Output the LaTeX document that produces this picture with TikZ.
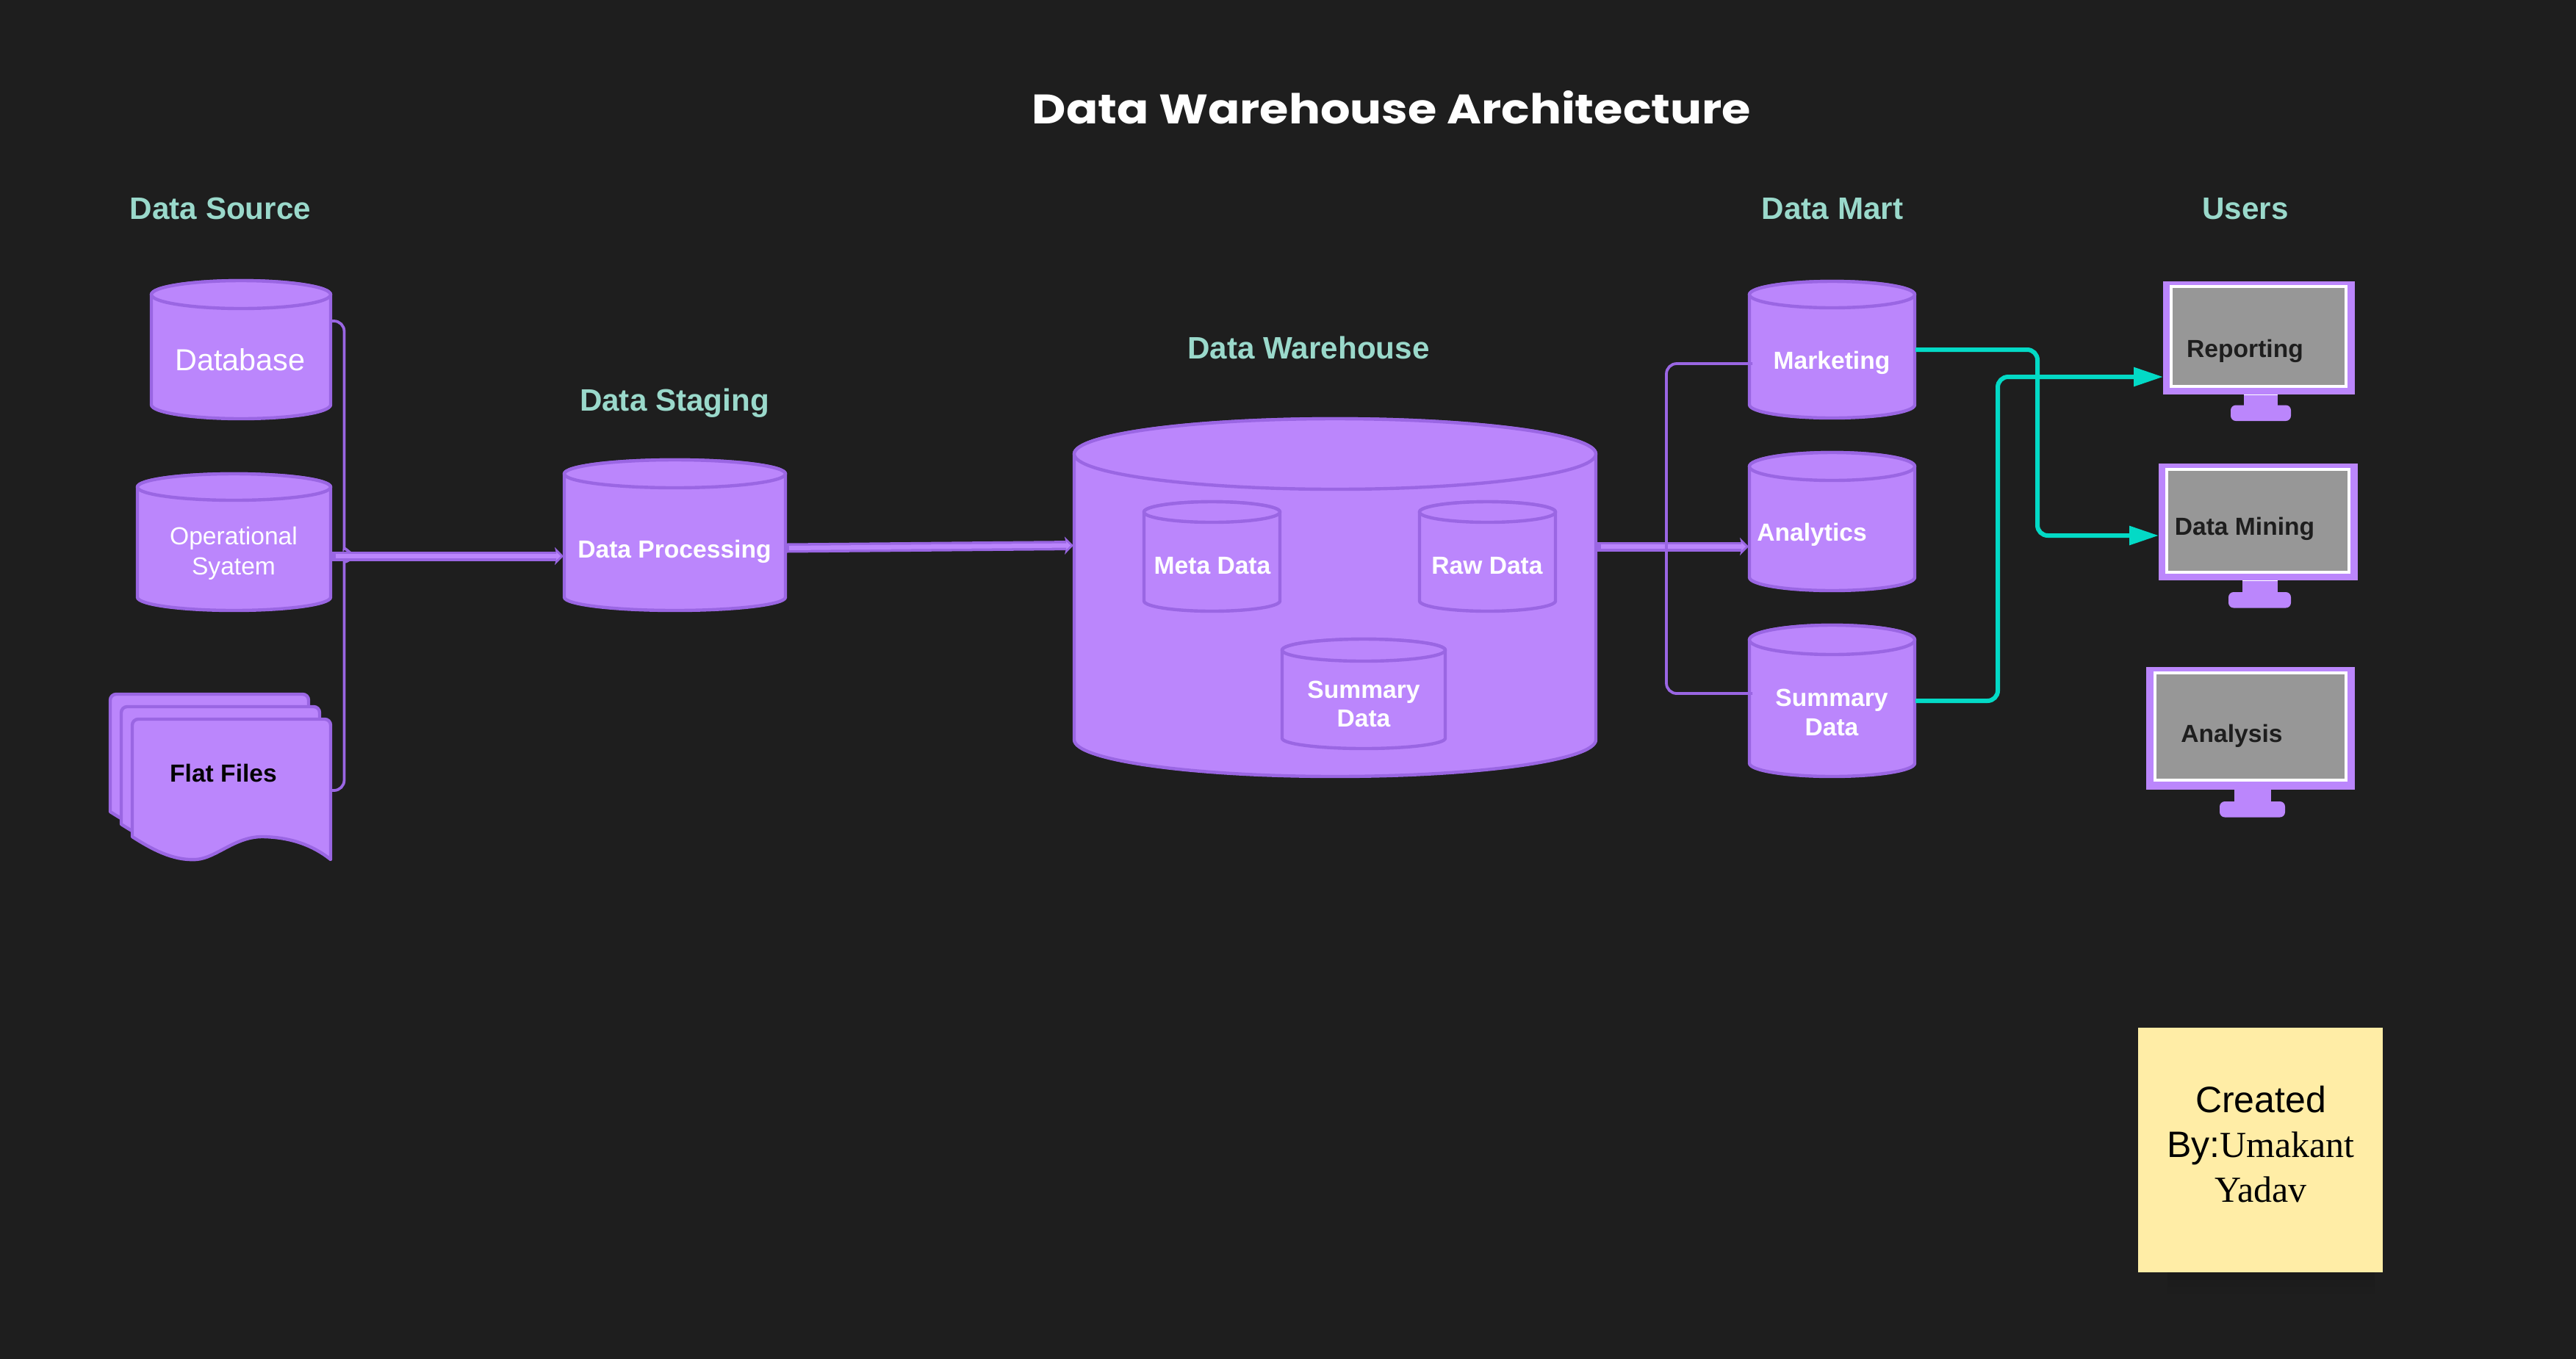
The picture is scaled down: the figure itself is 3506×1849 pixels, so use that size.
\documentclass[tikz,border=0pt]{standalone}
\usepackage{fontspec}
\usepackage{graphicx}
\setmainfont{Liberation Sans}
\newfontfamily\serifx{Liberation Serif}
\newfontfamily\titlefont{Poppins}
\usetikzlibrary{arrows.meta}
\definecolor{bgc}{HTML}{1E1E1E}
\definecolor{purp}{HTML}{BB86FC}
\definecolor{purpd}{HTML}{9A66E3}
\definecolor{tealc}{HTML}{03DAC6}
\definecolor{labelc}{HTML}{9AD9CB}
\definecolor{scr}{HTML}{979797}
\definecolor{sticky}{HTML}{FFEDA6}
\definecolor{darkt}{HTML}{1E1E1E}
\tikzset{
  cylstyle/.style={draw=purpd,fill=purp,line width=2.2pt,line join=round},
  anchorbox/.style={inner sep=0pt,outer sep=0pt,draw=none,fill=none},
  head/.style={font=\bfseries\fontsize{21.1}{24}\selectfont,text=labelc,inner sep=0pt},
  whitebold/.style={font=\bfseries\fontsize{16.8}{20}\selectfont,text=white,align=center,inner sep=0pt},
  darkbold/.style={font=\bfseries\fontsize{16.8}{20}\selectfont,text=darkt,align=center,inner sep=0pt},
  thinlink/.style={draw=purpd,line width=1.9pt,rounded corners=7pt},
  fatdark/.style={draw=purpd,line width=6.5pt,-{Stealth[length=6pt,width=12pt,inset=1.5pt]}},
  fatlight/.style={draw=purp,line width=3pt,-{Stealth[length=3pt,width=5.5pt,inset=.5pt]}},
  tealink/.style={draw=tealc,line width=3pt,rounded corners=7pt,-{Triangle[length=20pt,width=12.5pt]}},
  sheet/.style={draw=purpd,fill=purp,line width=2.2pt,line join=round},
}
\newcommand\cyl[7]{%
  \pgfmathsetmacro\cxx{(#2+#3)/2}%
  \pgfmathsetmacro\cyy{(#4+#7)/2}%
  \pgfmathsetmacro\rxx{(#3-#2-2)/4}%
  \pgfmathsetmacro\ryt{(#5-#4-1)/2}%
  \pgfmathsetmacro\ryb{(#7-#6-1)/2}%
  \pgfmathsetmacro\wdd{(#3-#2)/2}%
  \pgfmathsetmacro\htt{(#7-#4)/2}%
  \node[anchorbox,minimum width=\wdd pt,minimum height=\htt pt] (#1) at (\cxx,\cyy) {};
  \draw[cylstyle] (#2+1,#5) -- (#2+1,#6) arc[start angle=180,end angle=360,x radius=\rxx pt,y radius=\ryb pt] -- (#3-1,#5) arc[start angle=0,end angle=180,x radius=\rxx pt,y radius=\ryt pt] -- cycle;
  \draw[cylstyle] (\cxx,#5) ellipse[x radius=\rxx pt,y radius=\ryt pt];
}
% name, outer x1 x2 y1 y2, screen x1 x2 y1 y2
\newcommand\monitor[9]{%
  \pgfmathsetmacro\cxx{(#2+#3)/2}%
  \pgfmathsetmacro\cyy{(#4+#5)/2}%
  \pgfmathsetmacro\wdd{(#3-#2)/2}%
  \pgfmathsetmacro\htt{(#5-#4)/2}%
  \node[anchorbox,minimum width=\wdd pt,minimum height=\htt pt,fill=purp] (#1) at (\cxx,\cyy) {};
  \draw[draw=white,fill=scr,line width=2pt] (#6+2,#8+2) rectangle (#7-2,#9-2);
}
\newcommand\stand[6]{%
  \fill[purp] (#1,#3) rectangle (#2,#4);
  \draw[white,line width=.5pt] (#1,#3) -- (#2,#3);
  \fill[purp,rounded corners=3.5pt] (#5,#4) rectangle (#6,#4+21.5);
}
\newcommand\flatsheet{%
  \draw[sheet] (180,1139) [rounded corners=4pt] -- (180,979) -- (450,979) [sharp corners] -- (450,1170)
    .. controls (425,1150) and (395,1140) .. (359,1139)
    .. controls (320,1138) and (295,1168) .. (267,1170)
    .. controls (235,1172) and (205,1155) .. (180,1139) -- cycle;
}
\begin{document}
\begin{tikzpicture}[x=0.5pt,y=-0.5pt]
\useasboundingbox (0,0) rectangle (3506,1849);
\fill[bgc] (-20,-20) rectangle (3530,1870);

% title and section heads
\node[inner sep=0pt,text=white] (title) at (1894,146) {\resizebox{489pt}{22.5pt}{\titlefont\bfseries Data Warehouse Architecture}};
\node[head] (hsource) at (300,284) {Data Source};
\node[head] (hstaging) at (918,549) {Data Staging};
\node[head] (hware) at (1781,473) {Data Warehouse};
\node[head] (hmart) at (2494,284) {Data Mart};
\node[head] (husers) at (3056,284) {Users};

% sources
\cyl{db}{205}{451}{381}{401}{551}{571}
\cyl{ops}{186}{451}{644}{663}{813}{832}
\begin{scope}[shift={(-30,-34)}]\flatsheet\end{scope}
\begin{scope}[shift={(-15,-17)}]\flatsheet\end{scope}
\flatsheet
\node[anchorbox,minimum width=136pt,minimum height=96.5pt] (flat) at (315,1074.5) {};

% staging, warehouse
\cyl{proc}{767}{1070}{625}{645}{813}{832}
\cyl{ware}{1461}{2173}{569}{618}{1007}{1058}
\cyl{meta}{1556}{1743}{682}{697}{818}{833}
\cyl{raw}{1931}{2118}{682}{697}{818}{833}
\cyl{summ}{1744}{1968}{869}{885}{1005}{1020}

% marts
\cyl{marketing}{2380}{2607}{382}{401}{551}{570}
\cyl{analytics}{2380}{2607}{615}{635}{786}{805}
\cyl{summart}{2380}{2607}{850}{871}{1039}{1058}

% monitors
\stand{3054}{3100}{537}{551.5}{3036}{3118}
\monitor{reporting}{2944}{3205}{383}{537}{2953}{3195}{388}{528}
\stand{3052}{3100}{790}{806}{3033}{3118}
\monitor{mining}{2938}{3209}{631}{790}{2947}{3199}{637}{781}
\stand{3041}{3091}{1074.5}{1091}{3021}{3110}
\monitor{analysis}{2921}{3205}{908}{1074.5}{2930.5}{3194.5}{914}{1064}

% sticky note
\shade[top color=bgc!88!black,bottom color=bgc] (2950,1732) rectangle (3232,1765);
\node[anchorbox,fill=sticky,minimum width=166.5pt,minimum height=166.5pt] (note) at (3076.5,1565.5) {};

% connectors
\coordinate (busL) at (468.5,600);
\coordinate (busLb) at (468.5,900);
\coordinate (joinA) at (480,755);
\coordinate (joinB) at (480,760);
\draw[thinlink] ([yshift=19.5pt]db.east) -| (busL) -- (468.5,733) [sharp corners] .. controls (468.5,745) and (472,749) .. (joinA);
\draw[thinlink] ([yshift=-.75pt]flat.east) -| (busLb) -- (468.5,776) [sharp corners] .. controls (468.5,768) and (472,763) .. (joinB);

\draw[fatdark] ([yshift=-9.5pt]ops.east) -- ([yshift=-14.25pt]proc.west);
\draw[fatlight] ([yshift=-9.5pt,xshift=3pt]ops.east) -- ([yshift=-14.25pt,xshift=-2pt]proc.west);
\draw[fatdark] ([yshift=-8.75pt]proc.east) -- ([yshift=35.5pt]ware.west);
\draw[fatlight] ([yshift=-8.75pt,xshift=2pt]proc.east) -- ([yshift=35.5pt,xshift=-2pt]ware.west);
\draw[fatdark] ([yshift=34.75pt]ware.east) -- ([yshift=-17pt]analytics.west);
\draw[fatlight] ([yshift=34.75pt,xshift=3pt]ware.east) -- ([yshift=-17pt,xshift=-2pt]analytics.west);

\coordinate (busR) at (2268,700);
\draw[thinlink] ([xshift=2.5pt,yshift=-9.5pt]marketing.west) -| (busR) |- ([xshift=2.5pt,yshift=5pt]summart.west);

\coordinate (tealA) at (2773,600);
\coordinate (tealB) at (2719,700);
\draw[tealink] (marketing.east) -| (tealA) |- ([yshift=-9.25pt]mining.west);
\draw[tealink] (summart.east) -| (tealB) |- ([yshift=-26.5pt]reporting.west);

% texts
\node[font=\fontsize{20.7}{24}\selectfont,text=white,inner sep=0pt] (tdb) at (327,490) {Database};
\node[font=\fontsize{16.8}{20.5}\selectfont,text=white,align=center,inner sep=0pt] (tops) at (318,753) {Operational\\Syatem};
\node[darkbold,text=black!90!bgc] (tflat) at (304,1052) {Flat Files};
\node[whitebold] (tproc) at (918,751) {Data Processing};
\node[whitebold] (tmeta) at (1650,770) {Meta Data};
\node[whitebold] (traw) at (2024,770) {Raw Data};
\node[whitebold,font=\bfseries\fontsize{16.8}{19.5}\selectfont] (tsumm) at (1856,958) {Summary\\Data};
\node[whitebold] (tmark) at (2493,494) {Marketing};
\node[whitebold] (tana) at (2466,728) {Analytics};
\node[whitebold,font=\bfseries\fontsize{16.8}{20}\selectfont] (tsumart) at (2493,970) {Summary\\Data};
\node[darkbold] (trep) at (3055.5,478) {Reporting};
\node[darkbold] (tmin) at (3055,720) {Data Mining};
\node[darkbold] (tanal) at (3037.5,1002) {Analysis};
\node[font=\fontsize{25}{30.5}\selectfont,text=black,align=center,inner sep=0pt] (tnote) at (3077,1558) {Created\\By:{\serifx Umakant}\\{\serifx Yadav}};
\end{tikzpicture}
\end{document}
